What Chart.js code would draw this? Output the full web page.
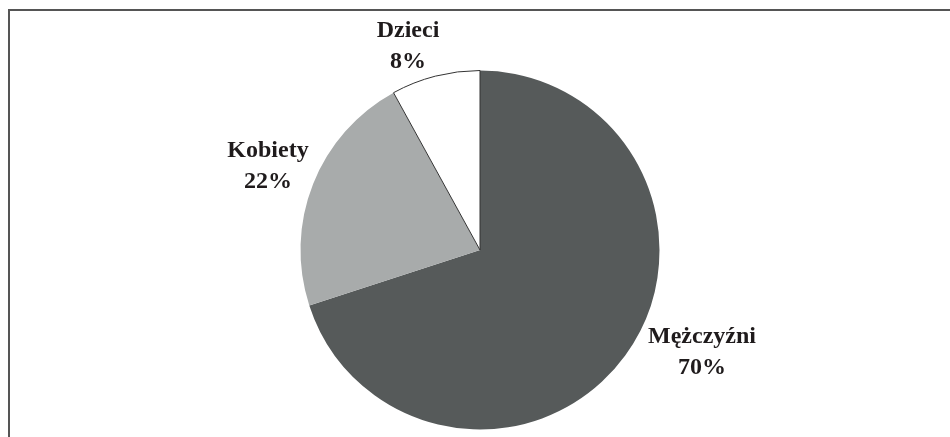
<!DOCTYPE html>
<html>
<head>
<meta charset="utf-8">
<script src="https://cdn.jsdelivr.net/npm/chart.js@4"></script>
<style>
  html, body { margin: 0; padding: 0; background: #fff; }
  body { width: 950px; height: 437px; overflow: hidden; position: relative; }
  #frame {
    position: absolute; left: 8px; top: 9px; width: 960px; height: 450px;
    border-left: 2px solid #555; border-top: 2px solid #555;
  }
  #wrap { position: absolute; left: 0; top: 0; width: 950px; height: 437px; }
</style>
</head>
<body>
<div id="frame"></div>
<div id="wrap"><canvas id="myChart"></canvas></div>
<script>
let canva = document.querySelector('#myChart')

const labels = ['Mężczyźni', 'Kobiety', 'Dzieci']
const data_numbers = [70, 22, 8]
const slice_colors = ['#565a5a', '#a8abab', '#ffffff']
// label offsets from the pie centre, in pixels
const label_offsets = [[222, 102], [-212, -84], [-72, -204]]

const pieLabels = {
  id: 'pieLabels',
  afterDatasetsDraw(chart) {
    const ctx = chart.ctx
    const arcs = chart.getDatasetMeta(0).data
    ctx.save()
    ctx.font = 'bold 24px "Liberation Serif", serif'
    ctx.fillStyle = '#1f1b1c'
    ctx.textAlign = 'center'
    ctx.textBaseline = 'middle'
    arcs.forEach((arc, i) => {
      const x = arc.x + label_offsets[i][0]
      const y = arc.y + label_offsets[i][1]
      ctx.fillText(labels[i], x, y - 15)
      ctx.fillText(data_numbers[i] + '%', x, y + 16)
    })
    ctx.restore()
  }
}

const data = {
  labels: labels,
  datasets: [{
    data: data_numbers,
    backgroundColor: slice_colors,
    borderColor: ['#565a5a', '#a8abab', '#333333'],
    borderWidth: [0, 0, 1]
  }]
}

const config = {
  type: 'pie',
  data: data,
  options: {
    responsive: false,
    animation: false,
    layout: { padding: { top: 70, bottom: 7, left: 10, right: 0 } },
    plugins: {
      legend: { display: false },
      tooltip: { enabled: false }
    }
  },
  plugins: [pieLabels]
}

canva.width = 950
canva.height = 437
new Chart(canva, config)
</script>
</body>
</html>
